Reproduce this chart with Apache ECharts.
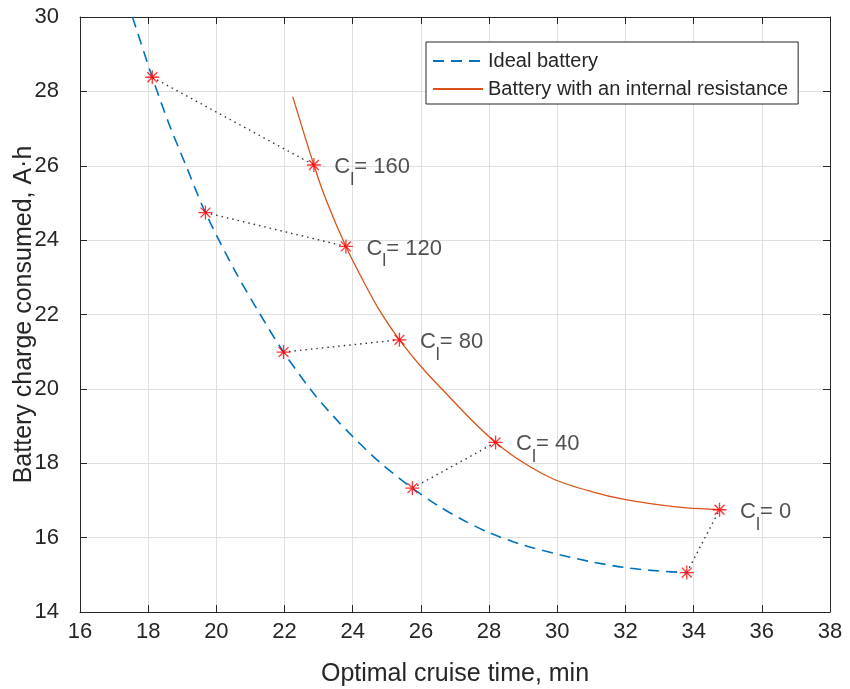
<!DOCTYPE html>
<html>
<head>
<meta charset="utf-8">
<script src="https://cdn.jsdelivr.net/npm/echarts@6/dist/echarts.min.js"></script>
<style>
html,body{margin:0;padding:0;background:#fff;}
#chart{width:850px;height:689px;}
</style>
</head>
<body>
<div id="chart"></div>
<script>
// Data
const xTicks = [16,18,20,22,24,26,28,30,32,34,36,38];
const yTicks = [14,16,18,20,22,24,26,28,30];

const idealCurveX = [17.54,18.12,18.60,19.12,19.68,20.59,21.30,21.97,22.93,23.90,24.80,25.75,26.50,27.22,28.01,29.00,30.07,31.00,32.03,33.00,33.80];
const idealCurveY = [30.00,28.38,27.15,25.98,24.74,23.10,21.98,20.99,19.79,18.81,18.02,17.33,16.86,16.48,16.13,15.80,15.54,15.35,15.19,15.10,15.06];

const resCurveX = [22.24,22.86,23.22,23.80,24.30,24.78,25.37,26.10,26.83,27.50,28.19,29.00,29.95,31.00,32.00,33.00,33.80,34.76];
const resCurveY = [27.86,26.02,25.08,23.83,22.92,22.12,21.32,20.50,19.79,19.15,18.56,18.02,17.55,17.24,17.02,16.88,16.80,16.75];

const capacityLabels = ['160','120','80','40','0'];
const idealStarX = [18.12,19.68,21.97,25.75,33.80];
const idealStarY = [28.38,24.74,20.99,17.33,15.06];
const resStarX = [22.86,23.80,25.37,28.19,34.76];
const resStarY = [26.02,23.83,21.32,18.56,16.75];

const FONT = 'Liberation Sans, Arial, Helvetica, sans-serif';
const TXT = '#262626';
const star = 'path://M0,-10L0,10M-10,0L10,0M-7.07,-7.07L7.07,7.07M-7.07,7.07L7.07,-7.07';

const zip = (xs, ys) => xs.map((x, i) => [x, ys[i]]);

const series = [
  {
    name: 'Ideal battery', type: 'line', data: zip(idealCurveX, idealCurveY),
    smooth: 0.3, showSymbol: false, symbol: 'none',
    lineStyle: {color: '#0072BD', width: 1.6, type: [11, 7]},
    itemStyle: {color: '#0072BD'}, z: 3
  },
  {
    name: 'Battery with an internal resistance', type: 'line', data: zip(resCurveX, resCurveY),
    smooth: 0.3, showSymbol: false, symbol: 'none',
    lineStyle: {color: '#D95319', width: 1.3, type: 'solid'},
    itemStyle: {color: '#D95319'}, z: 3
  }
];

capacityLabels.forEach((c, i) => {
  series.push({
    type: 'line', silent: true, showSymbol: false, symbol: 'none',
    data: [[idealStarX[i], idealStarY[i]], [resStarX[i], resStarY[i]]],
    lineStyle: {color: '#333333', width: 1.4, type: [1.5, 4]}, z: 2
  });
});

series.push({
  type: 'scatter', silent: true, symbol: star, symbolSize: 14,
  data: zip(idealStarX, idealStarY),
  itemStyle: {color: 'none', borderColor: '#FF0000', borderWidth: 1.3}, z: 5
});

series.push({
  type: 'scatter', silent: true, symbol: star, symbolSize: 14,
  data: resStarX.map((x, i) => ({value: [x, resStarY[i]], name: capacityLabels[i]})),
  itemStyle: {color: 'none', borderColor: '#FF0000', borderWidth: 1.3}, z: 5,
  label: {
    show: true, position: 'right', distance: 11, offset: [0, 3],
    formatter: p => '{c|C}{s|l}{c|= ' + p.name + '}',
    rich: {
      c: {fontFamily: FONT, fontSize: 22, color: TXT, lineHeight: 24, verticalAlign: 'top'},
      s: {fontFamily: FONT, fontSize: 18, color: TXT, lineHeight: 18, verticalAlign: 'top', padding: [15, 0, 0, 0]}
    }
  }
});

const chart = echarts.init(document.getElementById('chart'), null, {renderer: 'canvas'});
const axisCommon = {
  axisLine: {show: true, onZero: false, lineStyle: {color: TXT, width: 1}},
  axisTick: {show: true, inside: true, length: 7, lineStyle: {color: TXT, width: 1}}
};
chart.setOption({
  animation: false,
  backgroundColor: '#ffffff',
  grid: {left: 80, right: 20, top: 17, bottom: 77, containLabel: false, outerBoundsMode: 'none'},
  legend: {
    data: ['Ideal battery', 'Battery with an internal resistance'],
    orient: 'vertical', left: 426, top: 42,
    backgroundColor: '#ffffff', borderColor: TXT, borderWidth: 1,
    padding: [9, 10, 5, 6], itemGap: 8, itemWidth: 50, itemHeight: 14,
    itemStyle: {opacity: 0},
    textStyle: {fontFamily: FONT, fontSize: 20, color: TXT},
    selectedMode: false
  },
  xAxis: [
    Object.assign({
      type: 'value', min: 16, max: 38, interval: 2, position: 'bottom',
      name: 'Optimal cruise time, min', nameLocation: 'middle', nameGap: 50, nameMoveOverlap: false,
      nameTextStyle: {fontFamily: FONT, fontSize: 25, color: TXT},
      axisLabel: {fontFamily: FONT, fontSize: 22, color: TXT, margin: 9},
      splitLine: {show: true, lineStyle: {color: '#dfdfdf', width: 1}}
    }, axisCommon),
    Object.assign({
      type: 'value', min: 16, max: 38, interval: 2, position: 'top',
      axisLabel: {show: false}, splitLine: {show: false}
    }, axisCommon)
  ],
  yAxis: [
    Object.assign({
      type: 'value', min: 14, max: 30, interval: 2, position: 'left',
      name: 'Battery charge consumed, A·h', nameLocation: 'middle', nameGap: 43, nameMoveOverlap: false,
      nameTextStyle: {fontFamily: FONT, fontSize: 25, color: TXT},
      axisLabel: {fontFamily: FONT, fontSize: 22, color: TXT, margin: 21},
      splitLine: {show: true, lineStyle: {color: '#dfdfdf', width: 1}}
    }, axisCommon),
    Object.assign({
      type: 'value', min: 14, max: 30, interval: 2, position: 'right',
      axisLabel: {show: false}, splitLine: {show: false}
    }, axisCommon)
  ],
  series: series
});
</script>
</body>
</html>
